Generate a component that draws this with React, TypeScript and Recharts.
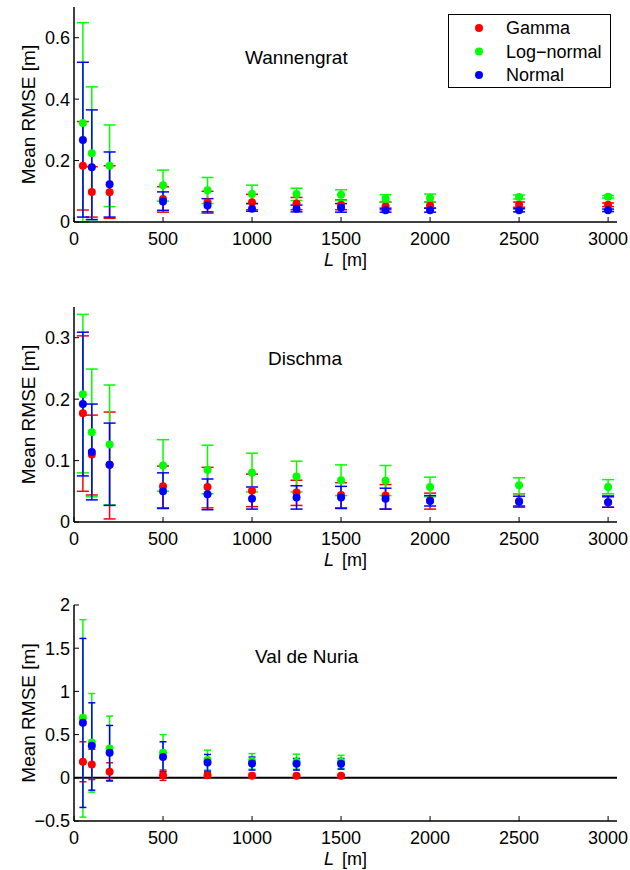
import React from 'react';
import {
  ScatterChart,
  Scatter,
  XAxis,
  YAxis,
  ErrorBar,
  ReferenceLine,
  ReferenceDot,
  Legend
} from 'recharts';

const FONT = '"Liberation Sans", Arial, Helvetica, sans-serif';

const distances = [50, 100, 200, 500, 750, 1000, 1250, 1500, 1750, 2000, 2500, 3000];
const nuriaDistances = [50, 100, 200, 500, 750, 1000, 1250, 1500];
const xTicks = [0, 500, 1000, 1500, 2000, 2500, 3000];

const seriesNames = ['Gamma', 'Log\u2212normal', 'Normal'];
const seriesColors = ['#ff0000', '#00ff00', '#0000ff'];

// Wannengrat
const wannGammaMean = [0.183, 0.098, 0.097, 0.075, 0.064, 0.064, 0.06, 0.056, 0.051, 0.054, 0.056, 0.056];
const wannGammaLow = [0.039, 0.016, 0.012, 0.032, 0.029, 0.04, 0.04, 0.04, 0.04, 0.045, 0.048, 0.05];
const wannGammaHigh = [0.327, 0.18, 0.183, 0.115, 0.1, 0.09, 0.08, 0.072, 0.065, 0.065, 0.065, 0.062];
const wannLogMean = [0.322, 0.224, 0.183, 0.12, 0.103, 0.091, 0.091, 0.089, 0.076, 0.078, 0.081, 0.082];
const wannLogLow = [0.0, 0.007, 0.05, 0.068, 0.06, 0.06, 0.07, 0.07, 0.065, 0.065, 0.075, 0.078];
const wannLogHigh = [0.649, 0.44, 0.316, 0.169, 0.145, 0.12, 0.11, 0.105, 0.089, 0.091, 0.088, 0.086];
const wannNormMean = [0.267, 0.178, 0.123, 0.067, 0.054, 0.043, 0.043, 0.046, 0.038, 0.038, 0.038, 0.038];
const wannNormLow = [0.016, 0.008, 0.016, 0.038, 0.033, 0.035, 0.033, 0.032, 0.032, 0.032, 0.033, 0.034];
const wannNormHigh = [0.52, 0.365, 0.228, 0.098, 0.076, 0.06, 0.055, 0.06, 0.045, 0.045, 0.043, 0.042];

// Dischma
const disGammaMean = [0.177, 0.11, 0.093, 0.058, 0.057, 0.051, 0.048, 0.044, 0.043, 0.035, 0.034, 0.032];
const disGammaLow = [0.05, 0.044, 0.005, 0.023, 0.023, 0.025, 0.027, 0.023, 0.021, 0.021, 0.024, 0.024];
const disGammaHigh = [0.303, 0.174, 0.179, 0.091, 0.089, 0.078, 0.068, 0.064, 0.061, 0.047, 0.046, 0.043];
const disLogMean = [0.208, 0.146, 0.126, 0.092, 0.085, 0.08, 0.074, 0.068, 0.067, 0.057, 0.06, 0.057];
const disLogLow = [0.08, 0.041, 0.028, 0.05, 0.046, 0.049, 0.049, 0.043, 0.043, 0.041, 0.046, 0.046];
const disLogHigh = [0.338, 0.249, 0.223, 0.134, 0.125, 0.112, 0.099, 0.093, 0.092, 0.073, 0.072, 0.069];
const disNormMean = [0.192, 0.114, 0.093, 0.05, 0.045, 0.038, 0.04, 0.04, 0.038, 0.034, 0.033, 0.032];
const disNormLow = [0.075, 0.036, 0.027, 0.022, 0.02, 0.021, 0.021, 0.022, 0.021, 0.026, 0.026, 0.024];
const disNormHigh = [0.309, 0.192, 0.161, 0.08, 0.07, 0.057, 0.059, 0.058, 0.055, 0.043, 0.042, 0.041];

// Val de Nuria
const nurGammaMean = [0.185, 0.154, 0.07, 0.03, 0.03, 0.023, 0.023, 0.023];
const nurGammaLow = [-0.046, -0.02, -0.01, -0.03, 0.0, 0.0, 0.005, 0.0];
const nurGammaHigh = [0.417, 0.33, 0.174, 0.09, 0.06, 0.05, 0.04, 0.04];
const nurLogMean = [0.694, 0.409, 0.34, 0.29, 0.205, 0.193, 0.185, 0.185];
const nurLogLow = [-0.455, -0.166, -0.04, 0.07, 0.09, 0.1, 0.1, 0.11];
const nurLogHigh = [1.83, 0.976, 0.714, 0.5, 0.32, 0.28, 0.274, 0.26];
const nurNormMean = [0.637, 0.37, 0.29, 0.24, 0.177, 0.166, 0.162, 0.162];
const nurNormLow = [-0.343, -0.143, -0.035, 0.07, 0.077, 0.089, 0.089, 0.1];
const nurNormHigh = [1.613, 0.868, 0.606, 0.417, 0.27, 0.24, 0.224, 0.224];

const toPoints = (xs: number[], mean: number[], low: number[], high: number[]) =>
  xs.map((x, i) => ({ x, y: mean[i], err: [mean[i] - low[i], high[i] - mean[i]] }));

const fmtY = (v: number) => String(v).replace('-', '\u2212');

// top margin inside each chart, so the highest tick label has room
const TOP = 15;

function LegendBox() {
  return (
    <svg width={163} height={74} style={{ display: 'block' }}>
      <rect x={0.5} y={0.5} width={162} height={73} fill="#fff" stroke="#000" />
      {seriesNames.map((name, i) => (
        <g key={name}>
          <circle cx={31} cy={14 + i * 23.5} r={4} fill={seriesColors[i]} />
          <text x={58} y={14 + i * 23.5} dy="0.35em" fontSize={18} fill="#000" fontFamily={FONT}>
            {name}
          </text>
        </g>
      ))}
    </svg>
  );
}

interface PanelProps {
  plotTop: number;
  plotH: number;
  site: string;
  siteAt: [number, number];
  yDomain: [number, number];
  yTicks: number[];
  xs: number[];
  series: { mean: number[]; low: number[]; high: number[] }[];
  capWidth: number;
  zeroLine?: boolean;
  legend?: boolean;
}

function Panel({ plotTop, plotH, site, siteAt, yDomain, yTicks, xs, series, capWidth, zeroLine, legend }: PanelProps) {
  const axisLine = { stroke: '#000', strokeWidth: 1.5 };
  const tickLine = { stroke: '#000', strokeWidth: 1 };
  return (
    <div style={{ position: 'absolute', left: 0, top: plotTop - TOP }}>
      <ScatterChart
        width={630}
        height={TOP + plotH + 50}
        margin={{ top: TOP, right: 13, bottom: 0, left: 0 }}
        style={{ fontFamily: FONT }}
      >
        <XAxis
          xAxisId="b"
          type="number"
          dataKey="x"
          domain={[0, 3050]}
          ticks={xTicks}
          interval={0}
          allowDataOverflow
          height={50}
          tickSize={-5}
          tickMargin={15}
          axisLine={axisLine}
          tickLine={tickLine}
          tick={{ fill: '#000', fontSize: 18 }}
          label={{
            content: (p: any) => {
              const vb = p.viewBox;
              return (
                <text x={vb.x + vb.width / 2} y={vb.y + 44} textAnchor="middle" fontSize={18} fill="#000" fontFamily={FONT}>
                  <tspan fontStyle="italic">L</tspan>
                  <tspan dx={8}>[m]</tspan>
                </text>
              );
            }
          }}
        />
        <XAxis
          xAxisId="t"
          orientation="top"
          type="number"
          domain={[0, 3050]}
          ticks={xTicks}
          interval={0}
          allowDataOverflow
          height={0}
          tickSize={-5}
          tick={false}
          axisLine={axisLine}
          tickLine={tickLine}
        />
        <YAxis
          yAxisId="l"
          type="number"
          dataKey="y"
          domain={yDomain}
          ticks={yTicks}
          interval={0}
          allowDataOverflow
          width={74}
          tickSize={-5}
          tickMargin={9}
          tickFormatter={fmtY}
          axisLine={axisLine}
          tickLine={tickLine}
          tick={{ fill: '#000', fontSize: 18 }}
          label={{
            content: (p: any) => {
              const vb = p.viewBox;
              const cy = vb.y + vb.height / 2;
              return (
                <text
                  x={28}
                  y={cy}
                  transform={`rotate(-90, 28, ${cy})`}
                  textAnchor="middle"
                  dy="0.35em"
                  fontSize={19}
                  fill="#000"
                  fontFamily={FONT}
                >
                  Mean RMSE [m]
                </text>
              );
            }
          }}
        />
        <YAxis
          yAxisId="r"
          orientation="right"
          type="number"
          domain={yDomain}
          ticks={yTicks}
          interval={0}
          allowDataOverflow
          width={0}
          tickSize={-5}
          tick={false}
          axisLine={axisLine}
          tickLine={tickLine}
        />
        {zeroLine && (
          <ReferenceLine xAxisId="b" yAxisId="l" y={0} stroke="#000" strokeWidth={2} />
        )}
        <ReferenceDot
          xAxisId="b"
          yAxisId="l"
          x={siteAt[0]}
          y={siteAt[1]}
          r={0}
          fill="none"
          stroke="none"
          label={{
            content: (p: any) => {
              const vb = p.viewBox;
              return (
                <text x={vb.x} y={vb.y} dy="0.35em" fontSize={19} fill="#000" fontFamily={FONT}>
                  {site}
                </text>
              );
            }
          }}
        />
        {series.map((s, i) => (
          <Scatter
            key={seriesNames[i]}
            name={seriesNames[i]}
            xAxisId="b"
            yAxisId="l"
            data={toPoints(xs, s.mean, s.low, s.high)}
            fill={seriesColors[i]}
            isAnimationActive={false}
            shape={(p: any) => <circle cx={p.cx} cy={p.cy} r={4} fill={seriesColors[i]} />}
          >
            <ErrorBar
              dataKey="err"
              direction="y"
              width={capWidth}
              stroke={seriesColors[i]}
              strokeWidth={1.5}
              isAnimationActive={false}
            />
          </Scatter>
        ))}
        {legend && (
          <Legend
            layout="vertical"
            align="center"
            verticalAlign="middle"
            wrapperStyle={{ left: 448, top: 14 - 7 + TOP, width: 163, height: 74 }}
            content={() => <LegendBox />}
          />
        )}
      </ScatterChart>
    </div>
  );
}

export default function App() {
  return (
    <div style={{ position: 'absolute', left: 0, top: 0, width: 630, height: 870, background: '#fff', overflow: 'hidden' }}>
      <Panel
        plotTop={7}
        plotH={215}
        site="Wannengrat"
        siteAt={[960, 0.537]}
        yDomain={[0, 0.7]}
        yTicks={[0, 0.2, 0.4, 0.6]}
        xs={distances}
        series={[
          { mean: wannGammaMean, low: wannGammaLow, high: wannGammaHigh },
          { mean: wannLogMean, low: wannLogLow, high: wannLogHigh },
          { mean: wannNormMean, low: wannNormLow, high: wannNormHigh }
        ]}
        capWidth={6}
        legend
      />
      <Panel
        plotTop={307}
        plotH={215}
        site="Dischma"
        siteAt={[1090, 0.267]}
        yDomain={[0, 0.35]}
        yTicks={[0, 0.1, 0.2, 0.3]}
        xs={distances}
        series={[
          { mean: disGammaMean, low: disGammaLow, high: disGammaHigh },
          { mean: disLogMean, low: disLogLow, high: disLogHigh },
          { mean: disNormMean, low: disNormLow, high: disNormHigh }
        ]}
        capWidth={6}
      />
      <Panel
        plotTop={605}
        plotH={216}
        site="Val de Nuria"
        siteAt={[1017, 1.41]}
        yDomain={[-0.5, 2]}
        yTicks={[-0.5, 0, 0.5, 1, 1.5, 2]}
        xs={nuriaDistances}
        series={[
          { mean: nurGammaMean, low: nurGammaLow, high: nurGammaHigh },
          { mean: nurLogMean, low: nurLogLow, high: nurLogHigh },
          { mean: nurNormMean, low: nurNormLow, high: nurNormHigh }
        ]}
        capWidth={3.5}
        zeroLine
      />
    </div>
  );
}
